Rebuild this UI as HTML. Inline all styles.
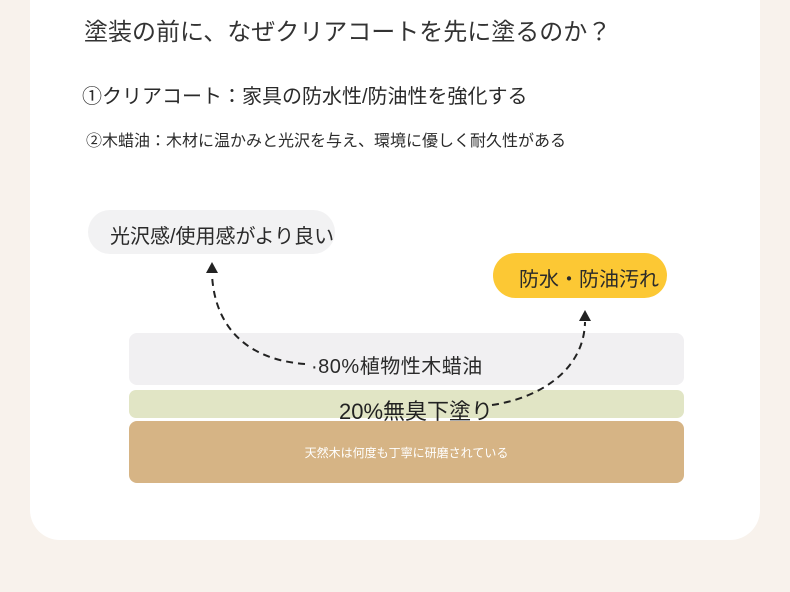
<!DOCTYPE html>
<html><head><meta charset="utf-8"><style>
body{margin:0;width:790px;height:592px;background:#f8f2ec;position:relative;overflow:hidden;font-family:"Liberation Sans","Noto Sans CJK JP",sans-serif;color:#2a2a2a}
.card{position:absolute;left:30px;top:-30px;width:730px;height:570px;background:#fff;border-radius:30px}
.a{position:absolute;white-space:nowrap}
</style></head><body>
<div class="card"></div>
<div class="a" style="left:84px;top:12px;font-size:24px;color:#333">塗装の前に、なぜクリアコートを先に塗るのか？</div>
<div class="a" style="left:82px;top:80px;font-size:20px">①クリアコート：家具の防水性/防油性を強化する</div>
<div class="a" style="left:86px;top:127px;font-size:16px">②木蜡油：木材に温かみと光沢を与え、環境に優しく耐久性がある</div>
<div class="a" style="left:88px;top:210px;width:247px;height:44px;border-radius:22px;background:#f2f2f3"></div>
<div class="a" style="left:110px;top:220px;font-size:20px">光沢感/使用感がより良い</div>
<div class="a" style="left:493px;top:253px;width:174px;height:45px;border-radius:23px;background:#fcc834"></div>
<div class="a" style="left:519px;top:263px;font-size:20px">防水・防油汚れ</div>
<div class="a" style="left:129px;top:333px;width:555px;height:52px;border-radius:8px;background:#f1f0f2"></div>
<div class="a" style="left:129px;top:390px;width:555px;height:28px;border-radius:7px;background:#e1e5c5"></div>
<div class="a" style="left:129px;top:421px;width:555px;height:62px;border-radius:8px;background:#d6b485"></div>
<div class="a" style="left:311px;top:350px;font-size:20px;letter-spacing:0.5px">·80%植物性木蜡油</div>
<div class="a" style="left:339px;top:394px;font-size:22px;color:#222">20%無臭下塗り</div>
<div class="a" style="left:129px;top:444px;width:555px;text-align:center;font-size:12px;color:#fff">天然木は何度も丁寧に研磨されている</div>
<svg class="a" style="left:0;top:0" width="790" height="592">
<path d="M305 364 C250 360 215 330 212 275" fill="none" stroke="#222" stroke-width="2" stroke-dasharray="7 5"/>
<polygon points="212,262 206,273 218,273" fill="#222"/>
<path d="M492 405 C540 398 584 370 585 322" fill="none" stroke="#222" stroke-width="2" stroke-dasharray="7 5"/>
<polygon points="585,310 579,321 591,321" fill="#222"/>
</svg>
</body></html>
